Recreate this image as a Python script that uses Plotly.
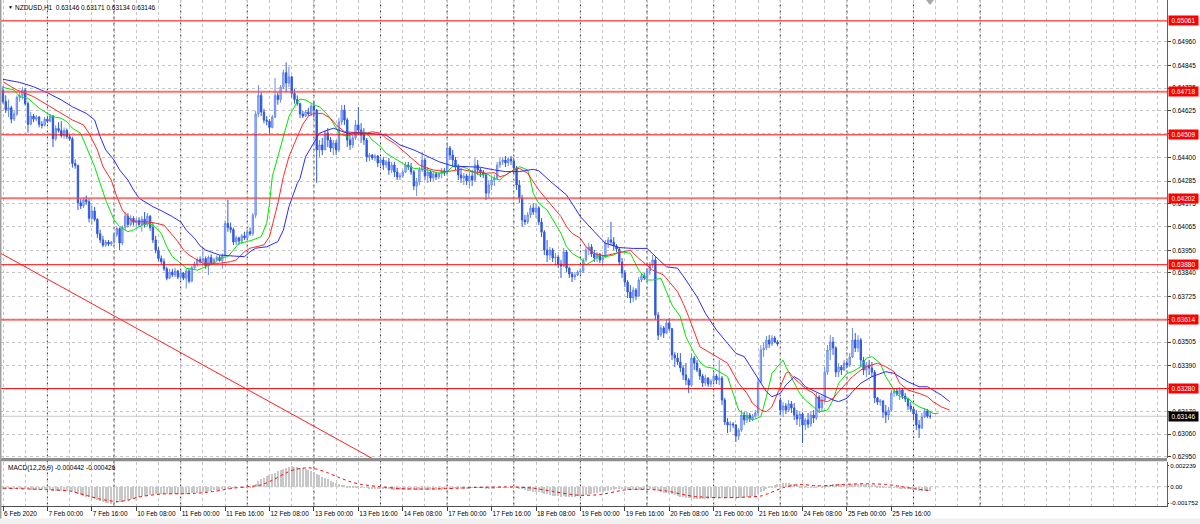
import plotly.graph_objects as go

# ---------------- DATA ----------------
# NZDUSD H1 candles, prices in points (1e-5); bar 0 = 6 Feb 2020 08:00, last bar = 26 Feb 06:00
bar_open = [
64725,64670,64630,64640,64585,64610,64690,64700,64725,64660,
64560,64600,64585,64595,64560,64555,64585,64575,64600,64490,
64540,64530,64505,64530,64500,64490,64370,64360,64180,64165,
64195,64185,64105,64140,64100,64030,64000,63975,63990,63980,
63990,64025,64055,63985,64060,64115,64075,64105,64085,64095,
64075,64100,64075,64115,64060,64000,63950,63910,63895,63860,
63815,63845,63830,63850,63820,63840,63815,63850,63800,63865,
63885,63905,63895,63910,63875,63915,63890,63905,63915,63900,
63925,64080,64060,64050,63990,64010,63995,64020,64010,64040,
64030,64120,64610,64700,64620,64580,64575,64545,64595,64700,
64680,64740,64810,64760,64790,64710,64680,64660,64610,64600,
64620,
64610,64649,64629,64436,64460,64436,64518,64484,64445,64470,
64436,64571,64629,64581,64484,64460,64494,64557,64532,64508,
64484,64402,64411,64397,64407,64373,64387,64363,64378,64339,
64363,64329,64305,64310,64329,64363,64353,64329,64261,64281,
64339,64387,64310,64329,64300,64320,64305,64320,64334,64330,
64445,64411,64387,64353,64315,64300,64310,64286,64310,64290,
64363,64339,64329,64315,64227,64266,64290,64300,64363,64378,
64387,64373,64392,64382,64349,64266,64203,64097,64087,64121,
64155,64135,64155,64087,64038,63951,63927,63951,63913,63917,
63883,63874,63942,63864,63835,63821,63830,63845,63850,63903,
63951,63966,63932,63913,63932,63903,63917,63985,64000,63990,
63971,63956,63893,63840,63796,63748,63719,63757,63728,63806,
63826,63816,63850,63878,63903,63636,63539,63574,63549,63598,
63570,63443,63428,63409,63380,63346,63322,63297,63428,63404,
63370,63341,63307,63331,63302,63317,63341,63322,63331,63225,
63118,63104,63108,63104,63050,63079,63152,63128,63152,63133,
63147,63162,63312,63467,63477,63515,63496,63525,63506,63225,
63176,63196,63176,63206,63186,63152,63133,63157,63104,63128,
63108,63152,63138,63240,63186,63225,63360,63467,63506,63477,
63360,63385,63370,63404,63394,63433,63515,63477,63515,63418,
63370,63394,63380,63360,63235,63215,63220,63167,63152,63176,
63259,63268,63254,63273,63244,63230,63196,63181,63157,63104,
63089,63143,63172,63146]
bar_high = [
64745,64700,64680,64650,64625,64700,64720,64740,64735,64670,
64620,64610,64605,64600,64575,64595,64600,64610,64605,64555,
64570,64575,64545,64540,64510,64500,64390,64365,64200,64205,
64215,64200,64165,64160,64105,64050,64020,64000,64000,63995,
64035,64065,64060,64070,64135,64130,64120,64115,64105,64110,
64115,64135,64130,64120,64085,64020,63965,63925,63910,63870,
63860,63860,63865,63855,63855,63845,63860,63865,63875,63895,
63915,63920,63965,63920,63925,63930,63915,63925,63925,63935,
64095,64195,64085,64060,64020,64015,64030,64040,64050,64060,
64130,64625,64750,64715,64635,64600,64585,64605,64785,64715,
64750,64825,64860,64840,64795,64730,64700,64665,64625,64630,
64640,
64658,64668,64634,64484,64494,64532,64542,64499,64484,64484,
64591,64654,64654,64591,64518,64508,64581,64644,64566,64542,
64494,64421,64416,64416,64411,64402,64402,64387,64397,64378,
64378,64349,64324,64339,64378,64378,64373,64339,64300,64353,
64426,64397,64353,64339,64329,64329,64329,64349,64349,64470,
64455,64436,64402,64368,64349,64324,64320,64329,64339,64397,
64387,64349,64339,64324,64290,64305,64315,64378,64397,64402,
64407,64402,64407,64397,64358,64290,64218,64121,64135,64169,
64179,64174,64164,64106,64048,64000,63966,63961,63937,63927,
63903,63961,63951,63870,63845,63845,63854,63859,63913,63966,
63985,63980,63951,63942,63937,63927,64000,64014,64087,64014,
63980,63966,63913,63854,63806,63782,63772,63767,63821,63840,
63840,63864,63893,63927,63917,63650,63588,63583,63612,63622,
63574,63457,63452,63452,63394,63404,63331,63452,63438,63418,
63380,63351,63346,63336,63326,63356,63351,63418,63341,63235,
63138,63123,63118,63108,63089,63176,63167,63167,63162,63157,
63176,63331,63491,63501,63535,63539,63539,63535,63515,63235,
63215,63210,63225,63220,63210,63176,63167,63165,63138,63162,
63167,63176,63259,63249,63244,63385,63491,63539,63530,63485,
63404,63394,63418,63413,63452,63574,63549,63539,63525,63433,
63409,63418,63409,63370,63240,63230,63225,63201,63191,63273,
63283,63283,63288,63283,63259,63236,63215,63186,63176,63128,
63162,63186,63181,63171]
bar_low = [
64660,64615,64595,64565,64575,64600,64670,64680,64650,64520,
64555,64570,64575,64545,64540,64550,64565,64570,64450,64480,
64520,64495,64490,64490,64480,64350,64345,64145,64150,64155,
64170,64085,64075,64090,64010,63985,63965,63965,63970,63970,
63980,64015,63950,63975,64045,64060,64065,64070,64060,64065,
64040,64060,64065,64045,63985,63935,63895,63880,63850,63805,
63810,63820,63820,63810,63805,63805,63765,63790,63795,63860,
63870,63885,63885,63860,63830,63880,63880,63895,63895,63860,
63915,64040,64035,63975,63975,63975,63980,64000,64000,64020,
64020,64105,64595,64600,64565,64555,64515,64540,64590,64655,
64665,64730,64715,64740,64690,64660,64650,64590,64590,64595,
64600,
64600,64591,64276,64402,64411,64436,64450,64426,64411,64411,
64426,64557,64557,64450,64436,64445,64484,64508,64470,64460,
64378,64382,64387,64382,64353,64358,64339,64349,64315,64324,
64305,64290,64290,64300,64324,64339,64315,64242,64213,64266,
64329,64290,64276,64281,64286,64290,64295,64300,64310,64320,
64387,64353,64339,64290,64276,64266,64266,64252,64261,64281,
64315,64305,64300,64193,64203,64242,64261,64290,64349,64363,
64353,64358,64363,64324,64242,64179,64063,64072,64077,64106,
64121,64106,64072,64014,63927,63893,63903,63893,63878,63864,
63816,63869,63845,63816,63796,63806,63826,63835,63840,63893,
63927,63917,63893,63893,63888,63878,63913,63961,63976,63951,
63942,63878,63816,63772,63719,63694,63699,63709,63724,63796,
63806,63796,63830,63864,63612,63515,63530,63525,63544,63560,
63418,63385,63394,63360,63322,63297,63259,63288,63370,63360,
63322,63288,63292,63288,63288,63307,63302,63297,63201,63104,
63065,63070,63089,63021,63031,63070,63104,63113,63118,63123,
63138,63147,63307,63433,63467,63477,63486,63501,63486,63152,
63143,63157,63167,63162,63128,63104,63094,63017,63079,63089,
63094,63113,63128,63162,63167,63215,63346,63418,63443,63336,
63336,63346,63365,63380,63385,63428,63457,63457,63385,63346,
63336,63346,63336,63210,63201,63196,63138,63113,63128,63167,
63240,63244,63225,63230,63215,63176,63167,63128,63079,63041,
63084,63138,63138,63134]
bar_close = [
64670,64630,64640,64585,64610,64690,64700,64725,64660,64560,
64600,64585,64595,64560,64555,64585,64575,64600,64490,64540,
64530,64505,64530,64500,64490,64370,64360,64180,64165,64195,
64185,64105,64140,64100,64030,64000,63975,63990,63980,63990,
64025,64055,63985,64060,64115,64075,64105,64085,64095,64075,
64100,64075,64115,64060,64000,63950,63910,63895,63860,63815,
63845,63830,63850,63820,63840,63815,63850,63800,63865,63885,
63905,63895,63910,63875,63915,63890,63905,63915,63900,63925,
64080,64060,64050,63990,64010,63995,64020,64010,64040,64030,
64120,64610,64700,64620,64580,64575,64545,64595,64700,64680,
64740,64810,64760,64790,64710,64680,64660,64610,64600,64620,
64610,
64649,64629,64436,64460,64436,64518,64484,64445,64470,64436,
64571,64629,64581,64484,64460,64494,64557,64532,64508,64484,
64402,64411,64397,64407,64373,64387,64363,64378,64339,64363,
64329,64305,64310,64329,64363,64353,64329,64261,64281,64339,
64387,64310,64329,64300,64320,64305,64320,64334,64324,64445,
64411,64387,64353,64315,64300,64310,64286,64310,64290,64363,
64339,64329,64315,64227,64266,64290,64300,64363,64378,64387,
64373,64392,64382,64349,64266,64203,64097,64087,64121,64155,
64135,64155,64087,64038,63951,63927,63951,63913,63917,63883,
63874,63942,63864,63835,63821,63830,63845,63850,63903,63951,
63966,63932,63913,63932,63903,63917,63985,64000,63990,63971,
63956,63893,63840,63796,63748,63719,63757,63728,63806,63826,
63816,63850,63878,63903,63636,63539,63574,63549,63598,63570,
63443,63428,63409,63380,63346,63322,63297,63428,63404,63370,
63341,63307,63331,63302,63317,63341,63322,63331,63225,63118,
63104,63108,63104,63050,63079,63152,63128,63152,63133,63147,
63162,63312,63467,63477,63515,63496,63525,63506,63496,63176,
63196,63176,63206,63186,63152,63133,63157,63104,63128,63108,
63152,63138,63240,63186,63225,63360,63467,63506,63477,63360,
63385,63370,63404,63394,63433,63515,63477,63515,63418,63370,
63394,63380,63360,63235,63215,63220,63167,63152,63176,63259,
63268,63254,63273,63244,63230,63196,63181,63157,63104,63089,
63143,63172,63146,63146]

# Alligator lines (bar index, price in points)
jaw_bar = [0,6,11,16,21,25,30,33,35,37,40,42,45,47,49,52,54,57,59,61,64,66,69,71,73,76,78,83,87,89,
           91,95,99,101,103,106,107,109,112,114,117,119,124,131,138,143,148,153,157,162,167,172,177,181,186,191,193,198,203,208,
           213,217,222,227,232,234,237,239,243,246,250,253,257,261,264,267,270,273,275,277,280,282,285,287,289,294,299,301,304,306,
           309,313,318,321,326,330,333,335,338,341]
jaw_val = [64778,64763,64742,64713,64678,64645,64613,64581,64500,64436,64387,64339,64290,64242,64202,64177,64161,64142,64129,64113,
           64088,64048,64008,63971,63951,63935,63927,63922,63919,63943,63960,63967,63992,64048,64161,64274,64298,64403,64468,64517,
           64532,64541,64517,64517,64508,64460,64436,64403,64379,64358,64355,64352,64339,64331,64331,64342,64335,64274,64218,64113,
           64040,63984,63963,63959,63959,63935,63895,63870,63863,63806,63725,63645,63564,63499,63451,63435,63370,63306,63265,63241,
           63257,63297,63338,63322,63289,63257,63225,63217,63233,63265,63306,63338,63362,63354,63313,63289,63289,63273,63249,63217]
teeth_bar = [0,5,11,16,21,25,29,31,34,36,39,41,43,46,48,52,55,58,60,63,65,67,70,72,78,82,84,87,89,94,
             96,99,101,103,106,108,110,112,115,118,120,123,131,133,136,138,141,143,145,148,150,153,155,160,165,169,174,177,179,181,
             184,186,189,191,193,196,198,201,203,205,208,210,213,215,217,222,226,229,234,238,240,243,245,247,251,253,257,261,263,265,
             268,270,273,275,277,280,282,283,285,287,289,292,294,297,299,301,304,306,309,311,315,318,321,323,326,330,333,335,338,341]
teeth_val = [64766,64726,64694,64654,64613,64581,64557,64516,64436,64355,64290,64209,64145,64097,64088,64088,64081,64072,64040,63992,
             63951,63927,63903,63887,63887,63895,63903,63943,63960,63976,64016,64177,64306,64403,64500,64560,64600,64613,64613,64589,
             64557,64524,64517,64524,64517,64492,64468,64444,64420,64387,64363,64347,64339,64331,64342,64331,64323,64326,64306,64314,
             64339,64347,64323,64282,64242,64193,64161,64113,64064,64032,64008,63967,63935,63927,63924,63940,63950,63911,63854,63830,
             63798,63749,63693,63628,63483,63467,63435,63403,63354,63306,63257,63209,63176,63168,63192,63289,63354,63362,63330,63306,
             63281,63257,63225,63217,63233,63265,63306,63338,63370,63386,63403,63386,63362,63306,63273,63257,63241,63217,63192,63176]
lips_bar = [0,4,6,9,11,13,16,18,21,23,25,28,30,33,35,37,40,42,45,47,49,52,54,57,59,61,64,66,70,73,
            76,78,81,83,85,88,90,93,95,96,97,99,101,103,106,107,109,112,114,117,119,121,124,126,129,131,133,136,138,141,
            143,145,148,153,157,160,162,165,167,169,172,174,177,179,181,184,186,189,190,191,193,196,198,201,203,205,208,210,213,215,
            217,220,222,226,229,232,234,237,239,241,244,246,249,251,253,256,258,261,263,265,268,270,273,275,277,280,281,282,285,287,
            289,292,294,297,299,301,304,306,309,311,313,316,318,321,323,326,328,330,333,335,337]
lips_val = [64739,64726,64694,64686,64662,64638,64613,64597,64589,64573,64541,64517,64452,64355,64274,64193,64097,64064,64040,64048,
            64064,64081,64072,64032,63967,63919,63887,63863,63854,63870,63887,63911,63919,63951,63984,63992,64000,64016,64081,64177,
            64306,64403,64500,64597,64670,64682,64678,64654,64645,64605,64565,64517,64500,64517,64524,64517,64484,64452,64420,64395,
            64379,64363,64347,64339,64323,64331,64355,64355,64347,64331,64314,64323,64298,64290,64314,64339,64355,64339,64290,64226,
            64177,64145,64097,64032,63967,63935,63911,63879,63903,63927,63919,63927,63945,63935,63854,63806,63806,63814,63749,63685,
            63628,63531,63451,63410,63386,63378,63362,63338,63257,63176,63144,63128,63144,63241,63354,63403,63418,63386,63306,63257,
            63225,63192,63168,63176,63225,63306,63354,63362,63386,63427,63435,63403,63338,63273,63241,63233,63209,63192,63176,63160,
            63160]

# MACD(12,26,9): main histogram per bar and signal line, in 1e-6 units
macd_main = [
-180,-190,-200,-220,-230,-220,-200,-190,-200,-240,-260,-270,-280,-290,-300,-300,-300,
-310,-350,-360,-370,-380,-390,-400,-410,-480,
-560,-700,-820,-920,-1000,-1100,-1180,-1280,-1380,-1480,-1570,-1650,-1710,-1752,-1720,
-1680,-1640,-1570,-1480,-1390,-1300,-1220,-1140,-1060,-990,-920,-860,-800,-760,-740,-730,
-720,-730,-750,-750,-750,-740,-740,-730,-720,-710,
-690,-660,-620,-580,-540,-500,-460,-420,-380,-340,-300,-260,-220,-150,-90,-50,
-30,-10,0,10,20,30,40,80,
400,700,900,1050,1180,1300,1420,1580,1700,1830,
1960,2100,2200,2239,2220,2180,2120,2050,
1950,1850,1750,1620,1450,1300,1150,1000,850,700,560,430,
330,280,240,180,120,80,60,40,10,-20,-60,-100,-130,-160,-180,-200,-210,-220,-240,-250,-260,-270,-280,
-290,-300,-300,-300,-310,-320,-320,-310,-300,-290,-290,-280,-270,-260,-250,-220,
-150,-110,-90,-80,-80,-90,-90,-90,-90,-80,-50,-40,-40,-50,-90,-100,-100,-90,-60,-30,-10,0,10,10,0,
-40,-110,-220,-320,-390,-440,-480,-510,-560,-620,-700,-780,-840,-890,-930,-970,-1000,-990,-1000,-1010,-1010,-1000,-980,-950,
-890,-820,-750,-690,-640,-590,-540,-490,-420,-350,-290,-250,-220,-210,-220,-240,-270,
-300,-310,-320,-310,-290,-270,-250,-230,-210,
-300,-420,-510,-590,-640,-690,-780,-860,-930,-1000,-1070,-1130,-1180,-1200,-1220,
-1230,-1240,-1240,-1230,-1220,-1200,-1180,-1150,-1110,-1120,-1170,-1200,-1210,-1210,-1220,-1200,-1150,-1100,-1050,-1000,-950,
-900,-750,-560,-380,-220,-80,40,200,300,380,420,430,420,380,320,250,180,
100,40,-10,-40,-60,-40,0,
60,140,220,290,330,330,320,310,300,300,310,340,360,370,360,340,320,300,280,220,150,90,30,-20,
-60,-70,-70,-80,-100,-120,-150,-190,-230,-270,-320,-370,-400,-420,-435,-442]
sig_bar = [0,16,24,30,35,41,45,49,57,64,69,76,83,88,93,97,102,105,108,110,113,117,121,125,129,136,143,150,160,170,
           184,191,198,205,208,215,221,225,232,239,246,249,258,265,273,276,281,287,293,299,303,311,318,323,328,334]
sig_val = [-155,-310,-465,-930,-1330,-1600,-1450,-1100,-780,-760,-720,-500,-150,0,200,700,1500,1850,2000,2050,
           1900,1500,1000,550,250,0,-200,-250,-200,-80,-30,-150,-500,-850,-920,-850,-500,-300,-280,-450,
           -900,-1050,-1180,-1150,-1000,-700,-100,250,100,150,250,330,250,50,-200,-426]

# Horizontal levels and trendline drawn on the chart
levels = [0.65061, 0.64718, 0.64509, 0.64202, 0.63880, 0.63614, 0.63280]
soft_levels = [0.64718, 0.64202, 0.63614]
bid_price = 0.63146
trend_bars = [-2, 140]
trend_prices = [0.63944, 0.62890]

# Axis tick labels
price_ticks = [0.64960, 0.64845, 0.64735, 0.64625, 0.64515, 0.64400, 0.64285, 0.64175, 0.64065, 0.63950,
               0.63840, 0.63725, 0.63615, 0.63505, 0.63390, 0.63280, 0.63170, 0.63060, 0.62950]
macd_ticks = [0.002239, 0.0, -0.001752]
macd_tick_text = ["0.002239", "0.00", "-0.001752"]
label_bars = [0, 16, 32, 48, 64, 80, 96, 112, 128, 144, 160, 176, 192, 208, 224, 240, 256, 272, 288, 304, 320]
date_labels = ["6 Feb 2020", "7 Feb 00:00", "7 Feb 16:00", "10 Feb 08:00", "11 Feb 00:00", "11 Feb 16:00",
               "12 Feb 08:00", "13 Feb 00:00", "13 Feb 16:00", "14 Feb 08:00", "17 Feb 00:00", "17 Feb 16:00",
               "18 Feb 08:00", "19 Feb 00:00", "19 Feb 16:00", "20 Feb 08:00", "21 Feb 00:00", "21 Feb 16:00",
               "24 Feb 08:00", "25 Feb 00:00", "25 Feb 16:00"]
day_sep_bars = [16, 40, 64, 88, 112, 136, 160, 184, 208, 232, 256, 280, 304, 328, 352]

title_text = "NZDUSD,H1  0.63146 0.63171 0.63134 0.63146"
macd_title = "MACD(12,26,9) -0.000442 -0.000426"

# ---------------- LAYOUT HELPERS ----------------
PT = 1e-5
W, H = 1200, 524
PLOT_R = 1167

def py(px):
    return 1 - px / H

def pts(v):
    return [a * PT for a in v]

main_dom = [py(458), py(0)]
macd_dom = [py(505.5), py(461.5)]
xdom = [0, PLOT_R / W]
x_rng = [-1.08, 419.3]
FONT = "Liberation Sans, Arial, sans-serif"
FS = 6.5
GRID = "#c4c4c4"
DASH = "3px,3px"

bars = list(range(len(bar_close)))

fig = go.Figure()

fig.add_trace(go.Candlestick(
    x=bars, open=pts(bar_open), high=pts(bar_high), low=pts(bar_low), close=pts(bar_close),
    xaxis="x", yaxis="y", whiskerwidth=0, hoverinfo="skip",
    increasing=dict(line=dict(color="#6a8cf0", width=1), fillcolor="#b3c5f6"),
    decreasing=dict(line=dict(color="#3159dc", width=1), fillcolor="#3159dc"),
))

fig.add_trace(go.Scatter(x=trend_bars, y=trend_prices, mode="lines", xaxis="x", yaxis="y",
                         line=dict(color="#ff2020", width=1), hoverinfo="skip"))
fig.add_trace(go.Scatter(x=lips_bar, y=pts(lips_val), mode="lines", xaxis="x", yaxis="y",
                         line=dict(color="#00e600", width=1), hoverinfo="skip"))
fig.add_trace(go.Scatter(x=teeth_bar, y=pts(teeth_val), mode="lines", xaxis="x", yaxis="y",
                         line=dict(color="#ff2a2a", width=1), hoverinfo="skip"))
fig.add_trace(go.Scatter(x=jaw_bar, y=pts(jaw_val), mode="lines", xaxis="x", yaxis="y",
                         line=dict(color="#2b2bff", width=1), hoverinfo="skip"))

fig.add_trace(go.Bar(x=bars, y=[v * 1e-6 for v in macd_main], xaxis="x2", yaxis="y2", width=0.4,
                     marker=dict(color="#c8c8c8", line=dict(width=0)), hoverinfo="skip"))
fig.add_trace(go.Scatter(x=sig_bar, y=[v * 1e-6 for v in sig_val], mode="lines", xaxis="x2", yaxis="y2",
                         line=dict(color="#ff0000", width=1, dash="dot", shape="spline", smoothing=0.6),
                         hoverinfo="skip"))

shapes = []
for b in day_sep_bars:
    shapes.append(dict(type="line", xref="x", yref="paper", x0=b, x1=b, y0=macd_dom[0], y1=1,
                       line=dict(color="#303030", width=1, dash=DASH), layer="below"))
shapes.append(dict(type="line", xref="paper", yref="y2", x0=0, x1=xdom[1], y0=0, y1=0,
                   line=dict(color=GRID, width=1, dash=DASH), layer="below"))
shapes.append(dict(type="line", xref="paper", yref="y", x0=0, x1=xdom[1], y0=bid_price, y1=bid_price,
                   line=dict(color="#c8c8c8", width=1), layer="below"))
for lv in levels:
    if lv in soft_levels:
        ln = dict(color="rgba(245,70,70,0.75)", width=2)
    else:
        ln = dict(color="#ff0000", width=1)
    shapes.append(dict(type="line", xref="paper", yref="y", x0=0, x1=xdom[1], y0=lv, y1=lv, line=ln))
shapes.append(dict(type="rect", xref="paper", yref="paper", x0=0, x1=xdom[1], y0=py(461.3), y1=py(458),
                   fillcolor="#8e8e8e", line=dict(width=0)))
shapes.append(dict(type="rect", xref="paper", yref="paper", x0=0, x1=1, y0=0, y1=py(518.5),
                   fillcolor="#f0f0f0", line=dict(width=0)))
shapes.append(dict(type="rect", xref="paper", yref="paper", x0=0, x1=1.5 / W, y0=py(518.5), y1=1,
                   fillcolor="#a0a0a0", line=dict(width=0)))
shapes.append(dict(type="path", xref="paper", yref="paper",
                   path=f"M {926/W},{py(0)} L {934/W},{py(0)} L {930/W},{py(5)} Z",
                   fillcolor="#a8a8a8", line=dict(width=0)))

annotations = []
annotations.append(dict(xref="paper", yref="paper", x=5.5 / W, y=py(7.5), xanchor="left", yanchor="middle",
                        text="▼", showarrow=False, font=dict(family=FONT, size=5, color="#000000")))
annotations.append(dict(xref="paper", yref="paper", x=13 / W, y=py(7.5), xanchor="left", yanchor="middle",
                        text=title_text, showarrow=False, font=dict(family=FONT, size=FS, color="#000000")))
annotations.append(dict(xref="paper", yref="paper", x=6 / W, y=py(467.5), xanchor="left", yanchor="middle",
                        text=macd_title, showarrow=False, font=dict(family=FONT, size=FS, color="#000000")))
for lv in levels:
    annotations.append(dict(xref="paper", yref="y", x=1168 / W, y=lv, xanchor="left", yanchor="middle",
                            text=f"{lv:.5f}", showarrow=False, bgcolor="#ff0000", borderpad=0.5,
                            width=28, height=8, font=dict(family=FONT, size=FS, color="#ffffff")))
annotations.append(dict(xref="paper", yref="y", x=1168 / W, y=bid_price, xanchor="left", yanchor="middle",
                        text=f"{bid_price:.5f}", showarrow=False, bgcolor="#000000", borderpad=0.5,
                        width=28, height=8, font=dict(family=FONT, size=FS, color="#ffffff")))

tickfont = dict(family=FONT, size=FS, color="#000000")

fig.update_layout(
    width=W, height=H, margin=dict(l=0, r=0, t=0, b=0),
    paper_bgcolor="#ffffff", plot_bgcolor="#ffffff", showlegend=False, bargap=0,
    shapes=shapes, annotations=annotations,
    xaxis=dict(domain=xdom, range=x_rng, anchor="y", showticklabels=False, ticks="",
               tickmode="linear", tick0=0, dtick=8, showgrid=True, gridcolor=GRID, griddash=DASH, gridwidth=1,
               zeroline=False, showline=False, rangeslider=dict(visible=False), automargin=False),
    xaxis2=dict(domain=xdom, range=x_rng, anchor="y2", matches="x",
                tickmode="array", tickvals=label_bars, ticktext=date_labels, tickangle=0,
                ticks="outside", ticklen=4, tickcolor="#404040", ticklabelposition="outside right",
                ticklabelstandoff=2,
                tickfont=tickfont, showgrid=True, gridcolor=GRID, griddash=DASH, gridwidth=1,
                minor=dict(tickmode="linear", tick0=0, dtick=8, showgrid=True, gridcolor=GRID,
                           griddash=DASH, ticks=""),
                zeroline=False, showline=True, linecolor="#505050", linewidth=1, automargin=False),
    yaxis=dict(domain=main_dom, range=[0.62944, 0.65162], anchor="x", side="right",
               tickmode="array", tickvals=price_ticks, ticktext=[f"{v:.5f}" for v in price_ticks],
               ticks="outside", ticklen=3, tickcolor="#404040", tickfont=tickfont,
               showgrid=True, gridcolor=GRID, griddash=DASH, gridwidth=1,
               zeroline=False, showline=True, linecolor="#606060", linewidth=1, automargin=False),
    yaxis2=dict(domain=macd_dom, range=[-0.00202, 0.00272], anchor="x2", side="right",
                tickmode="array", tickvals=macd_ticks, ticktext=macd_tick_text,
                ticks="outside", ticklen=1, tickcolor="#404040", ticklabelstandoff=0,
                tickfont=dict(family=FONT, size=6.2, color="#000000"),
                showgrid=False, zeroline=False, showline=True, linecolor="#606060", linewidth=1,
                automargin=False),
)

fig.write_html("out.html", config={"displayModeBar": False},
               post_script="document.body.style.margin='0';document.body.style.overflow='hidden';")
